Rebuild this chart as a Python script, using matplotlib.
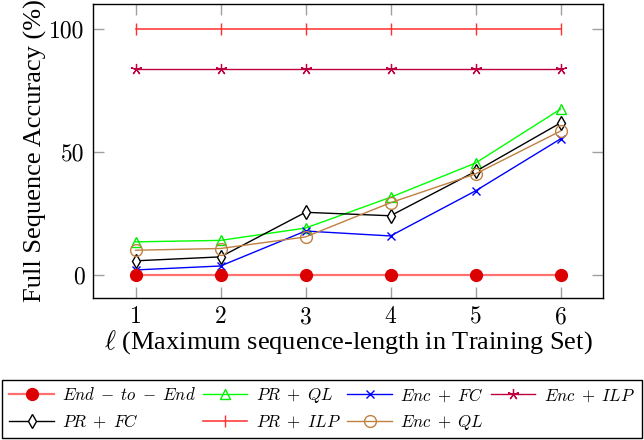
import matplotlib
matplotlib.use("Agg")
import matplotlib.pyplot as plt
from matplotlib.patches import Rectangle

plt.rcParams['mathtext.fontset'] = 'cm'
plt.rcParams['font.family'] = ['Liberation Serif', 'DejaVu Serif']

x = [1, 2, 3, 4, 5, 6]
end_to_end = [0, 0, 0, 0, 0, 0]
pr_ql = [13.4, 14.0, 19.0, 31.5, 45.4, 67.3]
enc_fc = [2.0, 3.6, 17.8, 15.8, 34.1, 55.2]
enc_ilp = [83.8, 83.8, 83.8, 83.8, 83.8, 83.8]
pr_fc = [5.7, 7.3, 25.4, 24.0, 42.0, 61.7]
pr_ilp = [100, 100, 100, 100, 100, 100]
enc_ql = [10.0, 10.7, 15.4, 29.3, 41.0, 58.4]
xtick_labels = ['1', '2', '3', '4', '5', '6']
ytick_vals = [0, 50, 100]
ytick_labels = ['0', '50', '100']
series_labels = [r'$End\;-\;to\;-\;End$', r'$PR\;+\;QL$', r'$Enc\;+\;FC$',
                 r'$Enc\;+\;ILP$', r'$PR\;+\;FC$', r'$PR\;+\;ILP$', r'$Enc\;+\;QL$']

W, H = 644, 440
fig = plt.figure(figsize=(W/100, H/100), dpi=100)
ax = fig.add_axes([93/W, 1-298/H, (603-93)/W, (298-4)/H])

lw = 1.0
ax.plot(x, end_to_end, color='#ff7070', lw=1.6, marker='o', markersize=8.5,
        markerfacecolor='#dd0000', markeredgecolor='#dd0000', label=series_labels[0], zorder=3)
ax.plot(x, pr_ql, color='#00ff00', lw=lw, marker='^', markersize=7,
        markerfacecolor='none', markeredgecolor='#00ee00', label=series_labels[1])
ax.plot(x, enc_fc, color='#0000ff', lw=lw, marker='x', markersize=6,
        markeredgecolor='#0000ff', label=series_labels[2])
ax.plot(x, enc_ilp, color='#bf0040', lw=lw, marker=(5, 2, 0), markersize=8,
        markeredgecolor='#bf0040', markeredgewidth=0.9, label=series_labels[3])
ax.plot(x, pr_fc, color='black', lw=lw, marker='d', markersize=7,
        markerfacecolor='white', markeredgecolor='black', label=series_labels[4])
ax.plot(x, pr_ilp, color='#ff4040', lw=1.2, marker='|', markersize=8,
        markeredgecolor='#ff3030', markeredgewidth=1.0, label=series_labels[5])
ax.plot(x, enc_ql, color='#bf8040', lw=lw, marker='o', markersize=8.5,
        markerfacecolor='none', markeredgecolor='#bf8040', label=series_labels[6])

ax.set_xlim(0.5, 6.5)
ax.set_ylim(-9.4, 110)
ax.set_xticks(x)
ax.set_xticklabels(xtick_labels, fontfamily='cmr10')
ax.set_yticks(ytick_vals)
ax.set_yticklabels(ytick_labels, fontfamily='cmr10')
ax.tick_params(direction='in', length=8, width=1, color='#a0a0a0',
               top=True, right=True, labelsize=17, pad=6)
for s in ax.spines.values():
    s.set_linewidth(1.0)

ax.set_xlabel(r'$\ell$ (Maximum sequence-length in Training Set)', fontsize=19, labelpad=0)
ax.set_ylabel('Full Sequence Accuracy (%)', fontsize=19, labelpad=2)

handles, labels = ax.get_legend_handles_labels()
order = [0, 4, 1, 5, 2, 6, 3]
fs = 12.2
leg = fig.legend([handles[i] for i in order], [labels[i] for i in order],
                 loc='upper left', bbox_to_anchor=(6/W, 1-383/H),
                 ncol=4, fontsize=fs, frameon=False,
                 handlelength=32/fs, borderaxespad=0, borderpad=0.2,
                 columnspacing=5/fs, handletextpad=6/fs, labelspacing=0.5)
fig.patches.append(Rectangle((2/W, 1-438/H), 640/W, 58/H, transform=fig.transFigure,
                             fill=False, edgecolor='black', linewidth=1.0))

fig.savefig('out.png', dpi=100)
